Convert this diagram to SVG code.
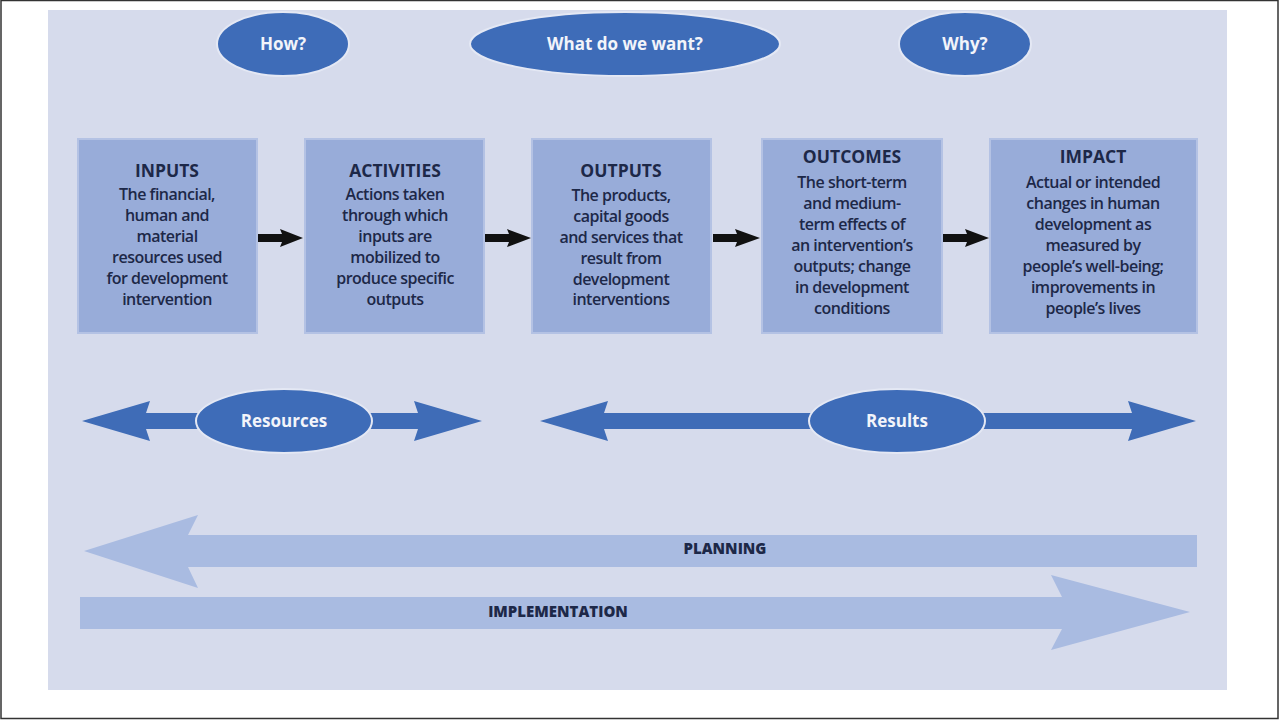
<svg xmlns="http://www.w3.org/2000/svg" width="1279" height="720" viewBox="0 0 1279 720">
<style>
.q{fill:#3e6cb8;stroke:#e4e8f4;stroke-width:2}
.qt{font-family:"Open Sans",sans-serif;font-weight:700;font-size:17px;fill:#f2f4fa;text-anchor:middle}
.box{fill:#98acd9;stroke:#b4c2e4;stroke-width:2}
.tt{font-family:"Open Sans",sans-serif;font-weight:700;font-size:17.5px;fill:#1d2848;text-anchor:middle}
.bt{font-family:"Open Sans",sans-serif;font-weight:600;font-size:16px;fill:#1d2848;text-anchor:middle;letter-spacing:-0.5px}
.big{fill:#a9bbe1}
.bl{font-family:"Open Sans",sans-serif;font-weight:800;font-size:15px;fill:#1d2848;text-anchor:middle}
.flow{fill:#3f6cb7}
.ar{fill:#111}
</style>
<rect x="0" y="0" width="1279" height="720" fill="#ffffff"/>
<rect x="1" y="0.5" width="1277" height="718" fill="none" stroke="#333" stroke-width="1.5"/>
<rect x="48" y="10" width="1179" height="680" fill="#d6dbec"/>

<g id="how"><ellipse class="q" cx="283" cy="44" rx="66" ry="32"/><text class="qt" x="283" y="50">How?</text></g>
<g id="what"><ellipse class="q" cx="625" cy="44" rx="155" ry="32"/><text class="qt" x="625" y="50">What do we want?</text></g>
<g id="why"><ellipse class="q" cx="965" cy="44" rx="66" ry="32"/><text class="qt" x="965" y="50">Why?</text></g>

<g id="inputs"><rect class="box" x="78" y="139" width="179" height="194"/>
<text class="tt" x="167" y="177">INPUTS</text>
<text class="bt"><tspan x="167" y="200">The financial,</tspan><tspan x="167" y="221">human and</tspan><tspan x="167" y="242">material</tspan><tspan x="167" y="263">resources used</tspan><tspan x="167" y="284">for development</tspan><tspan x="167" y="305">intervention</tspan></text></g>

<g id="activities"><rect class="box" x="305" y="139" width="179" height="194"/>
<text class="tt" x="395" y="177">ACTIVITIES</text>
<text class="bt"><tspan x="395" y="200">Actions taken</tspan><tspan x="395" y="221">through which</tspan><tspan x="395" y="242">inputs are</tspan><tspan x="395" y="263">mobilized to</tspan><tspan x="395" y="284">produce specific</tspan><tspan x="395" y="305">outputs</tspan></text></g>

<g id="outputs"><rect class="box" x="532" y="139" width="179" height="194"/>
<text class="tt" x="621" y="177">OUTPUTS</text>
<text class="bt"><tspan x="621" y="201">The products,</tspan><tspan x="621" y="222">capital goods</tspan><tspan x="621" y="243">and services that</tspan><tspan x="621" y="264">result from</tspan><tspan x="621" y="285">development</tspan><tspan x="621" y="305">interventions</tspan></text></g>

<g id="outcomes"><rect class="box" x="762" y="139" width="180" height="194"/>
<text class="tt" x="852" y="163">OUTCOMES</text>
<text class="bt"><tspan x="852" y="188">The short-term</tspan><tspan x="852" y="209">and medium-</tspan><tspan x="852" y="230">term effects of</tspan><tspan x="852" y="251">an intervention’s</tspan><tspan x="852" y="272">outputs; change</tspan><tspan x="852" y="293">in development</tspan><tspan x="852" y="314">conditions</tspan></text></g>

<g id="impact"><rect class="box" x="990" y="139" width="207" height="194"/>
<text class="tt" x="1093" y="163">IMPACT</text>
<text class="bt"><tspan x="1093" y="188">Actual or intended</tspan><tspan x="1093" y="209">changes in human</tspan><tspan x="1093" y="230">development as</tspan><tspan x="1093" y="251">measured by</tspan><tspan x="1093" y="272">people’s well-being;</tspan><tspan x="1093" y="293">improvements in</tspan><tspan x="1093" y="314">people’s lives</tspan></text></g>

<g id="connectors">
<path class="ar" d="M258,234 L282,234 L280,229 L303,238 L280,247 L282,242 L258,242 Z"/>
<path class="ar" d="M485,234 L509,234 L507,229 L531,238 L507,247 L509,242 L485,242 Z"/>
<path class="ar" d="M713,234 L737,234 L735,229 L760,238 L735,247 L737,242 L713,242 Z"/>
<path class="ar" d="M943,234 L967,234 L965,229 L989,238 L965,247 L967,242 L943,242 Z"/>
</g>

<g id="resources">
<path class="flow" d="M82,421 L150,401 L146,413 L418,413 L414,401 L482,421 L414,441 L418,429 L146,429 L150,441 Z"/>
<ellipse class="q" cx="284" cy="421" rx="88" ry="32"/>
<text class="qt" x="284" y="427">Resources</text>
</g>

<g id="results">
<path class="flow" d="M540,421 L608,401 L604,413 L1132,413 L1128,401 L1196,421 L1128,441 L1132,429 L604,429 L608,441 Z"/>
<ellipse class="q" cx="897" cy="421" rx="88" ry="32"/>
<text class="qt" x="897" y="427">Results</text>
</g>

<g id="planning">
<path class="big" d="M84,551 L198,515 L188,535 L1197,535 L1197,567 L188,567 L198,588 Z"/>
<text class="bl" x="725" y="554">PLANNING</text>
</g>

<g id="implementation">
<path class="big" d="M80,597 L1062,597 L1051,575 L1190,612 L1051,650 L1062,629 L80,629 Z"/>
<text class="bl" x="558" y="617">IMPLEMENTATION</text>
</g>
</svg>
